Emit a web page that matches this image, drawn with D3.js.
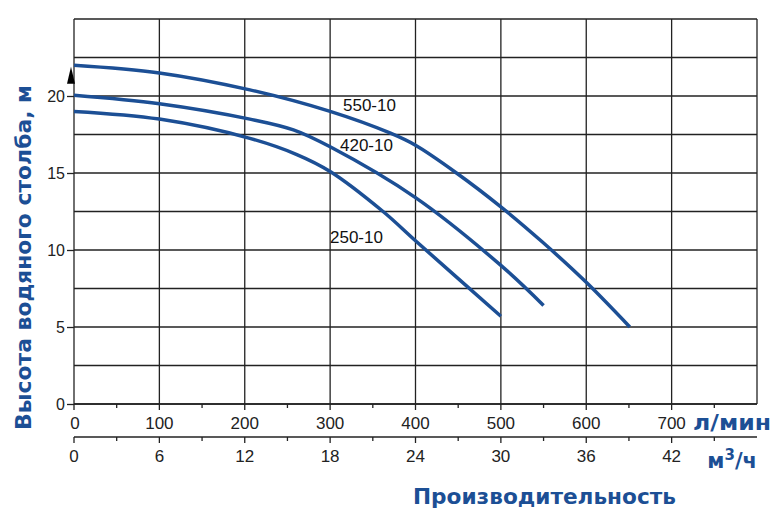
<!DOCTYPE html><html><head><meta charset="utf-8"><script src="https://d3js.org/d3.v7.min.js"></script>
<style>body{margin:0;background:#fff}text{font-family:"Liberation Sans Narrow","Liberation Sans",Arial,sans-serif}.b{font-family:"DejaVu Sans","Liberation Sans",sans-serif;font-weight:bold}</style></head><body><svg width="776" height="520"></svg>
<script>
const xTicksLmin=[0,100,200,300,400,500,600,700];
const xTicksM3=[0,6,12,18,24,30,36,42];
const yTicks=[0,5,10,15,20];
const series=[
 {name:"550-10",q:[0,100,206,300,370,400,448,500,549,600,651],h:[22,21.5,20.4,19.0,17.6,16.8,15.0,12.8,10.5,7.9,5.0],lab:[343,111]},
 {name:"420-10",q:[0,100,206,257,300,400,500,550],h:[20.05,19.5,18.5,17.8,16.7,13.4,9.0,6.4],lab:[340,151]},
 {name:"250-10",q:[0,100,206,261,300,362,400,500],h:[19.0,18.5,17.25,16.2,15.1,12.5,10.6,5.7],lab:[330,243]}
];
const blue="#1c4f95";
const svg=d3.select("svg");
const x=d3.scaleLinear().domain([0,800]).range([74,757]);
const y=d3.scaleLinear().domain([0,25]).range([404,19]);
const g=svg.append("g");
g.selectAll(".vg").data(d3.range(0,801,100)).join("line").attr("x1",d=>x(d)).attr("x2",d=>x(d)).attr("y1",y(0)).attr("y2",y(25)).attr("stroke","#222").attr("stroke-width",1.3);
g.selectAll(".hg").data(d3.range(0,25.1,2.5)).join("line").attr("x1",x(0)).attr("x2",x(800)).attr("y1",d=>y(d)).attr("y2",d=>y(d)).attr("stroke","#222").attr("stroke-width",1.3);
const ya=svg.append("g").attr("transform",`translate(${x(0)},0)`).call(d3.axisLeft(y).tickValues(yTicks).tickSize(7).tickPadding(2));
ya.select(".domain").remove();
ya.selectAll("line").attr("stroke","#222").attr("stroke-width",1.3);
ya.selectAll("text").attr("font-size",16).attr("fill","#222");
svg.append("path").attr("d",`M${x(0)-7},${y(20.8)} L${x(0)+1},${y(20.8)} L${x(0)-3},${y(21.9)}Z`).attr("fill","#000");
function xa(yy,ticks,mult,minor){
 const a=svg.append("g").attr("transform",`translate(0,${yy})`);
 a.append("line").attr("x1",x(0)).attr("x2",x(800)).attr("y1",0).attr("y2",0).attr("stroke","#222").attr("stroke-width",1.5);
 a.selectAll(".mj").data(ticks).join("line").attr("x1",d=>x(d*mult)).attr("x2",d=>x(d*mult)).attr("y1",0).attr("y2",6).attr("stroke","#222").attr("stroke-width",1.3);
 a.selectAll(".mn").data(minor).join("line").attr("x1",d=>x(d*mult)).attr("x2",d=>x(d*mult)).attr("y1",0).attr("y2",4).attr("stroke","#222").attr("stroke-width",1.3);
 a.selectAll("text").data(ticks).join("text").attr("x",d=>x(d*mult)).attr("y",25).attr("text-anchor","middle").attr("font-size",17).attr("fill","#222").text(d=>d);
 return a;
}
const a1=xa(404,xTicksLmin,1,d3.range(50,800,100));
a1.select("text").attr("x",x(0)+1);
const a2=xa(437,xTicksM3,100/6,d3.range(3,48,6));
svg.append("text").attr("class","b").attr("x",693).attr("y",430).attr("textLength",78).attr("lengthAdjust","spacingAndGlyphs").attr("font-size",21).attr("fill",blue).text("л/мин");
const u=svg.append("text").attr("class","b").attr("x",757).attr("y",468).attr("text-anchor","end").attr("font-size",21).attr("fill",blue);
u.append("tspan").text("м");u.append("tspan").attr("dy",-8).attr("font-size",15).text("3");u.append("tspan").attr("dy",8).text("/ч");
svg.append("text").attr("class","b").attr("x",413).attr("y",504).attr("textLength",263).attr("lengthAdjust","spacingAndGlyphs").attr("font-size",21).attr("fill",blue).text("Производительность");
svg.append("text").attr("class","b").attr("transform","translate(31,430) rotate(-90)").attr("textLength",345).attr("lengthAdjust","spacingAndGlyphs").attr("font-size",22).attr("fill",blue).text("Высота водяного столба, м");
const line=d3.line().x(d=>x(d[0])).y(d=>y(d[1])).curve(d3.curveCatmullRom.alpha(0.5));
series.forEach(s=>{
 svg.append("path").attr("d",line(s.q.map((q,i)=>[q,s.h[i]]))).attr("fill","none").attr("stroke",blue).attr("stroke-width",3.5);
 svg.append("text").attr("x",s.lab[0]).attr("y",s.lab[1]).attr("font-family","Liberation Sans, Arial, sans-serif").attr("font-size",17).attr("fill","#111").text(s.name);
});
</script></body></html>
